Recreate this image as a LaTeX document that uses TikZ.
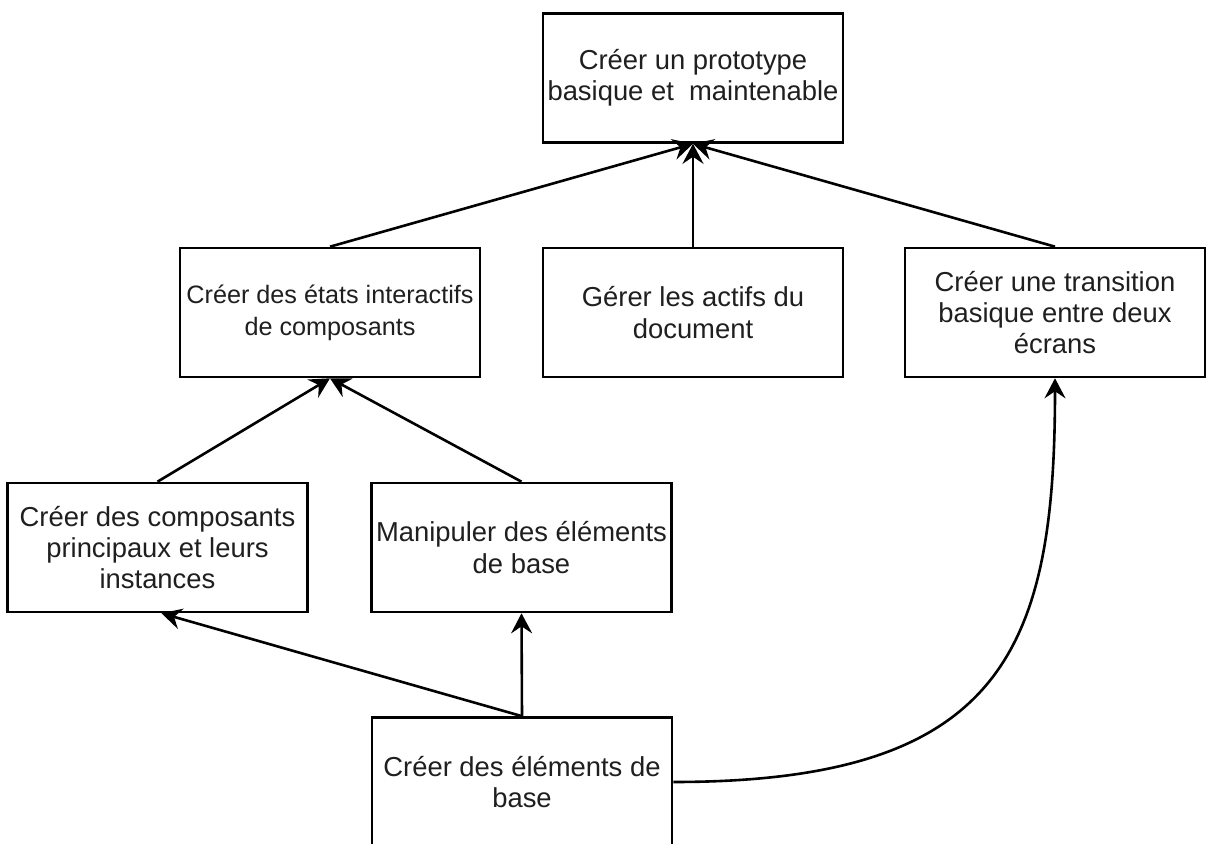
\documentclass[tikz,border=0pt]{standalone}
\usepackage{fontspec}
\setmainfont{Liberation Sans}
\usetikzlibrary{arrows.meta}
\begin{document}
\begin{tikzpicture}[x=0.5pt,y=-0.5pt,
  box/.style={draw=black, line width=1.3pt, fill=white,
    minimum width=150pt, minimum height=64.5pt, inner sep=0pt,
    align=center, text=black!88,
    font=\fontsize{13.7pt}{15.6pt}\selectfont},
  smallbox/.style={box, font=\fontsize{12.6pt}{16pt}\selectfont},
  link/.style={draw=black, line width=1.3pt,
    -{Stealth[length=10pt,width=10.5pt,inset=3.5pt]}}]
\useasboundingbox (0,0) rectangle (1206,844);
\fill[white] (0,0) rectangle (1206,844);

% goal at the top
\node[box] (goal) at (693,78) {Créer un prototype\\basique et\ \ maintenable};

% second level
\node[smallbox] (states) at (330,312.5) {Créer des états interactifs\\de composants};
\node[box] (assets) at (693,312.5) {Gérer les actifs du\\document};
\node[box] (trans) at (1055,312.5) {Créer une transition\\basique entre deux\\écrans};

% third level
\node[box] (comps) at (157.5,547.5) {Créer des composants\\principaux et leurs\\instances};
\node[box] (manip) at (521.5,547.5) {Manipuler des éléments\\de base};

% base
\node[box] (base) at (522,782) {Créer des éléments de\\base};

% dependencies
\draw[link] (states.north) -- (goal.south);
\draw[link] (assets.north) -- (goal.south);
\draw[link] (trans.north) -- (goal.south);
\draw[link] (comps.north) -- (states.south);
\draw[link] (manip.north) -- (states.south);
\draw[link] (base.north) -- ([xshift=2pt]comps.south);
\draw[link] (base.north) -- (manip.south);
\draw[link] (base.east) .. controls +(328,0) and +(0,273) .. (trans.south);
\end{tikzpicture}
\end{document}
